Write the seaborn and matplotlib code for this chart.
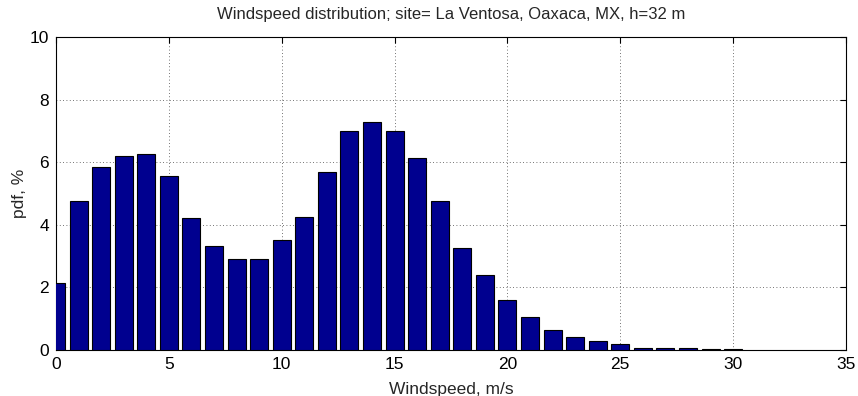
# Windspeed distribution - La Ventosa, Oaxaca
import seaborn as sns
import matplotlib.pyplot as plt
import pandas as pd

# wind speed bins (m/s) and pdf values (%)
speed = list(range(0, 31))
pdf = [2.15, 4.75, 5.85, 6.2, 6.27, 5.57, 4.22, 3.33, 2.9, 2.9,
       3.52, 4.25, 5.7, 7.0, 7.3, 7.0, 6.15, 4.77, 3.27, 2.4,
       1.6, 1.04, 0.64, 0.4, 0.3, 0.18, 0.05, 0.05, 0.05, 0.03,
       0.03]

df = pd.DataFrame({'speed': speed, 'pdf': pdf})

sns.set_style('white')
plt.rcParams['font.family'] = ['Liberation Sans', 'DejaVu Sans']

fig = plt.figure(figsize=(8.58, 3.96), dpi=100)
ax = fig.add_axes([56 / 858, 1 - 350 / 396, 790 / 858, 313 / 396])

sns.barplot(data=df, x='speed', y='pdf', native_scale=True, width=0.8,
            color='#00008f', saturation=1, edgecolor='black', linewidth=0.8,
            ax=ax, zorder=3)

ax.set_xlim(0, 35)
ax.set_ylim(0, 10)
ax.set_xticks(range(0, 36, 5))
ax.set_yticks(range(0, 11, 2))
ax.grid(True, linestyle=(0, (1, 3)), color='#444444', linewidth=0.6)
ax.set_axisbelow(True)
ax.tick_params(direction='in', top=True, right=True, length=4,
               labelsize=12.5, colors='black', pad=5)
for s in ax.spines.values():
    s.set_color('black')
    s.set_linewidth(0.8)

ax.set_title('Windspeed distribution; site= La Ventosa, Oaxaca, MX, h=32 m',
             fontsize=12, pad=13)
ax.set_xlabel('Windspeed, m/s', fontsize=12.5, labelpad=7)
ax.set_ylabel('pdf, %', fontsize=12.5, labelpad=2)

fig.savefig('out.png', dpi=100)
